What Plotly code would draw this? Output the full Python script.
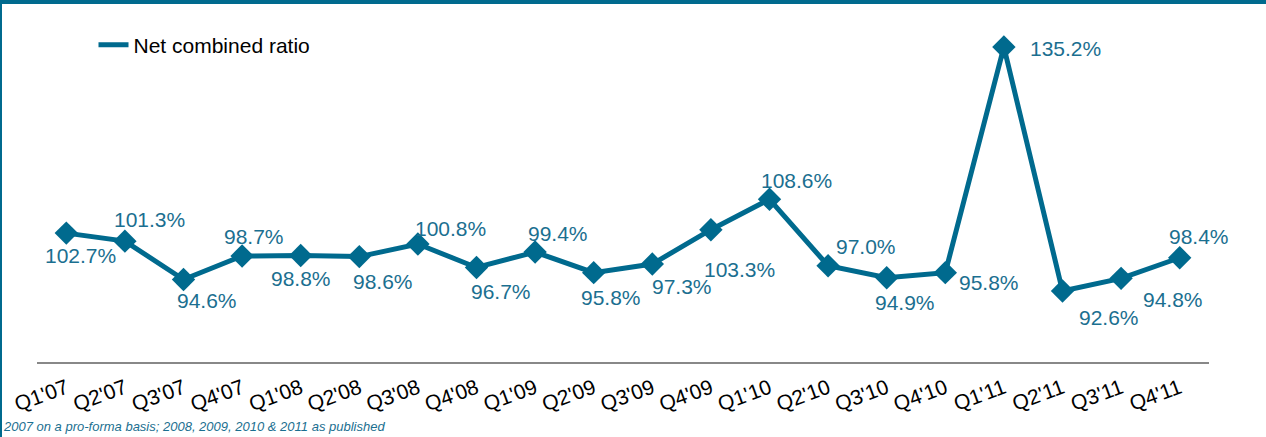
import plotly.graph_objects as go

quarters = ["Q1'07", "Q2'07", "Q3'07", "Q4'07", "Q1'08", "Q2'08", "Q3'08", "Q4'08",
            "Q1'09", "Q2'09", "Q3'09", "Q4'09", "Q1'10", "Q2'10", "Q3'10", "Q4'10",
            "Q1'11", "Q2'11", "Q3'11", "Q4'11"]
ratio = [102.7, 101.3, 94.6, 98.7, 98.8, 98.6, 100.8, 96.7,
         99.4, 95.8, 97.3, 103.3, 108.6, 97.0, 94.9, 95.8,
         135.2, 92.6, 94.8, 98.4]
series_name = "Net combined ratio"
footnote = "2007 on a pro-forma basis; 2008, 2009, 2010 & 2011 as published"

# label offsets in pixels (dx right, dy down) relative to each marker
label_dx = [14, 25, 23, 12, 0, 24, 33, 24, 23, 17, 30, 29, 27, 38, 18, 44, 62, 46, 52, 19]
label_dy = [22, -22, 21, -20, 23, 25, -16, 24, -19, 25, 22, 40, -19, -19, 25, 10, 2, 27, 21, -21]

TEAL = "#006A8E"
LABEL = "#1B6F90"
FONT = "Liberation Sans, Arial"

W, H = 1266, 437
ML, MR, MT, MB = 37, 57, 20, 75
PW, PH = W - ML - MR, H - MT - MB
Y_MIN = 80.2
Y_MAX = Y_MIN + PH / 5.728

fig = go.Figure()
fig.add_trace(go.Scatter(
    x=quarters, y=ratio, mode="lines+markers",
    line=dict(color=TEAL, width=5),
    marker=dict(symbol="diamond", size=18, color=TEAL),
    showlegend=False, hoverinfo="x+y",
))
fig.add_trace(go.Scatter(
    x=[None], y=[None], mode="lines", name=series_name,
    line=dict(color=TEAL, width=5),
))

for q, v, dx, dy in zip(quarters, ratio, label_dx, label_dy):
    fig.add_annotation(x=q, y=v, text=f"{v:.1f}%", showarrow=False,
                       xshift=dx, yshift=-dy,
                       font=dict(family=FONT, size=21, color=LABEL))

fig.add_annotation(x=0, y=0, xref="paper", yref="paper", xanchor="left", yanchor="bottom",
                   xshift=-ML + 1, yshift=-MB + 1, text=f"<i>{footnote}</i>", showarrow=False,
                   font=dict(family=FONT, size=13, color=LABEL))

# frame: top bar and left border
fig.add_shape(type="line", xref="paper", yref="paper", x0=-ML / PW, x1=-ML / PW,
              y0=-MB / PH, y1=1 + MT / PH, line=dict(color=TEAL, width=4))
fig.add_shape(type="line", xref="paper", yref="paper", x0=-ML / PW, x1=1 + MR / PW,
              y0=1 + MT / PH, y1=1 + MT / PH, line=dict(color=TEAL, width=8))

fig.update_layout(
    width=W, height=H,
    margin=dict(l=ML, r=MR, t=MT, b=MB, autoexpand=False),
    paper_bgcolor="white", plot_bgcolor="white",
    font=dict(family=FONT, size=16, color="black"),
    legend=dict(x=(93.5 - ML) / PW, y=1 - (45 - MT) / PH, xanchor="left", yanchor="middle",
                font=dict(family=FONT, size=21, color="black"), itemwidth=30,
                bgcolor="rgba(0,0,0,0)"),
    xaxis=dict(type="category", range=[-0.5, len(quarters) - 0.5], automargin=False,
               showgrid=False, showline=True, linecolor="#888888",
               linewidth=2, ticks="", tickangle=-20, ticklabelstandoff=4,
               tickfont=dict(family=FONT, size=21, color="black")),
    yaxis=dict(range=[Y_MIN, Y_MAX], visible=False, automargin=False),
)

fig.write_html("out.html", config={"displayModeBar": False},
               post_script="document.body.style.margin='0';document.body.style.overflow='hidden';")
